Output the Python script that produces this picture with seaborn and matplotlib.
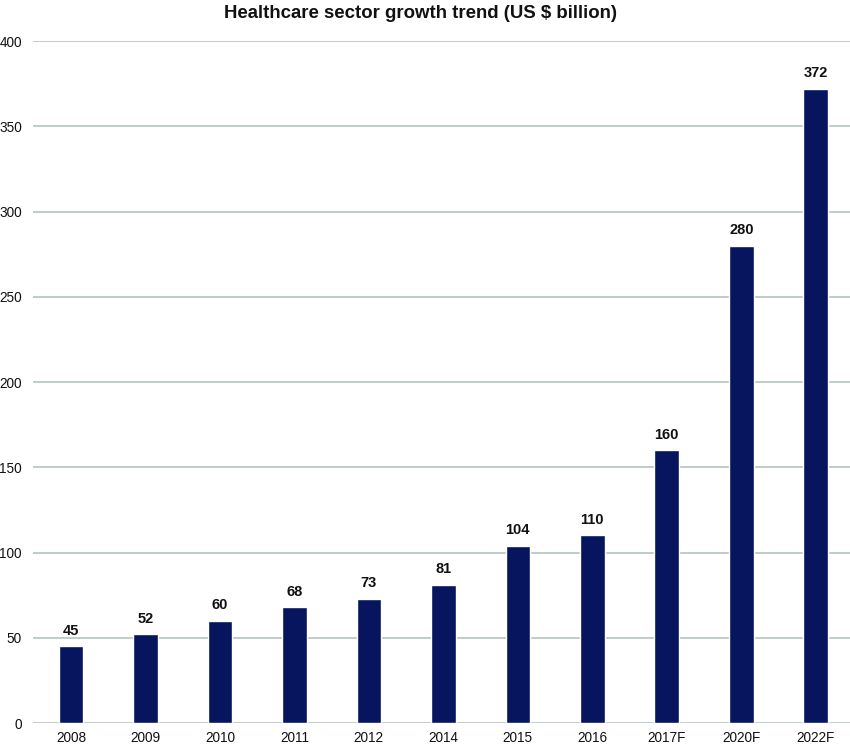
import pandas as pd
import seaborn as sns
import matplotlib
matplotlib.use("Agg")
import matplotlib.pyplot as plt

years = ["2008", "2009", "2010", "2011", "2012", "2014", "2015", "2016", "2017F", "2020F", "2022F"]
values = [45, 52, 60, 68, 73, 81, 104, 110, 160, 280, 372]

df = pd.DataFrame({"Year": years, "Value": values})

sns.set_style("white")
plt.rcParams["font.family"] = ["Liberation Sans", "DejaVu Sans"]

fig = plt.figure(figsize=(8.5, 7.47), dpi=100)
ax = fig.add_axes([0.0388, 0.0321, 0.9612, 0.9130])

sns.barplot(data=df, x="Year", y="Value", color="#06155e", width=0.33,
            saturation=1, ax=ax, zorder=3)

for i, v in enumerate(values):
    ax.text(i, v + 5, str(v), ha="center", va="bottom", fontsize=10.5,
            fontweight="bold", color="#111111")

ax.set_ylim(0, 400)
ax.set_xlim(-0.51, 10.46)
ax.set_yticks(range(0, 401, 50))
ax.yaxis.grid(True, color="#b5c3bf", linewidth=1.2, zorder=0)
ax.set_axisbelow(True)
for s in ax.spines.values():
    s.set_visible(False)
ax.tick_params(axis="both", length=0, labelsize=9.8, colors="#111111")
ax.tick_params(axis="y", pad=8)
ax.tick_params(axis="x", pad=6)
ax.set_xlabel("")
ax.set_ylabel("")
fig.text(0.495, 1 - 14 / 747, "Healthcare sector growth trend (US $ billion)",
         ha="center", va="center", fontsize=13.4, fontweight="bold", color="#111111")

fig.savefig("out.png", dpi=100)
